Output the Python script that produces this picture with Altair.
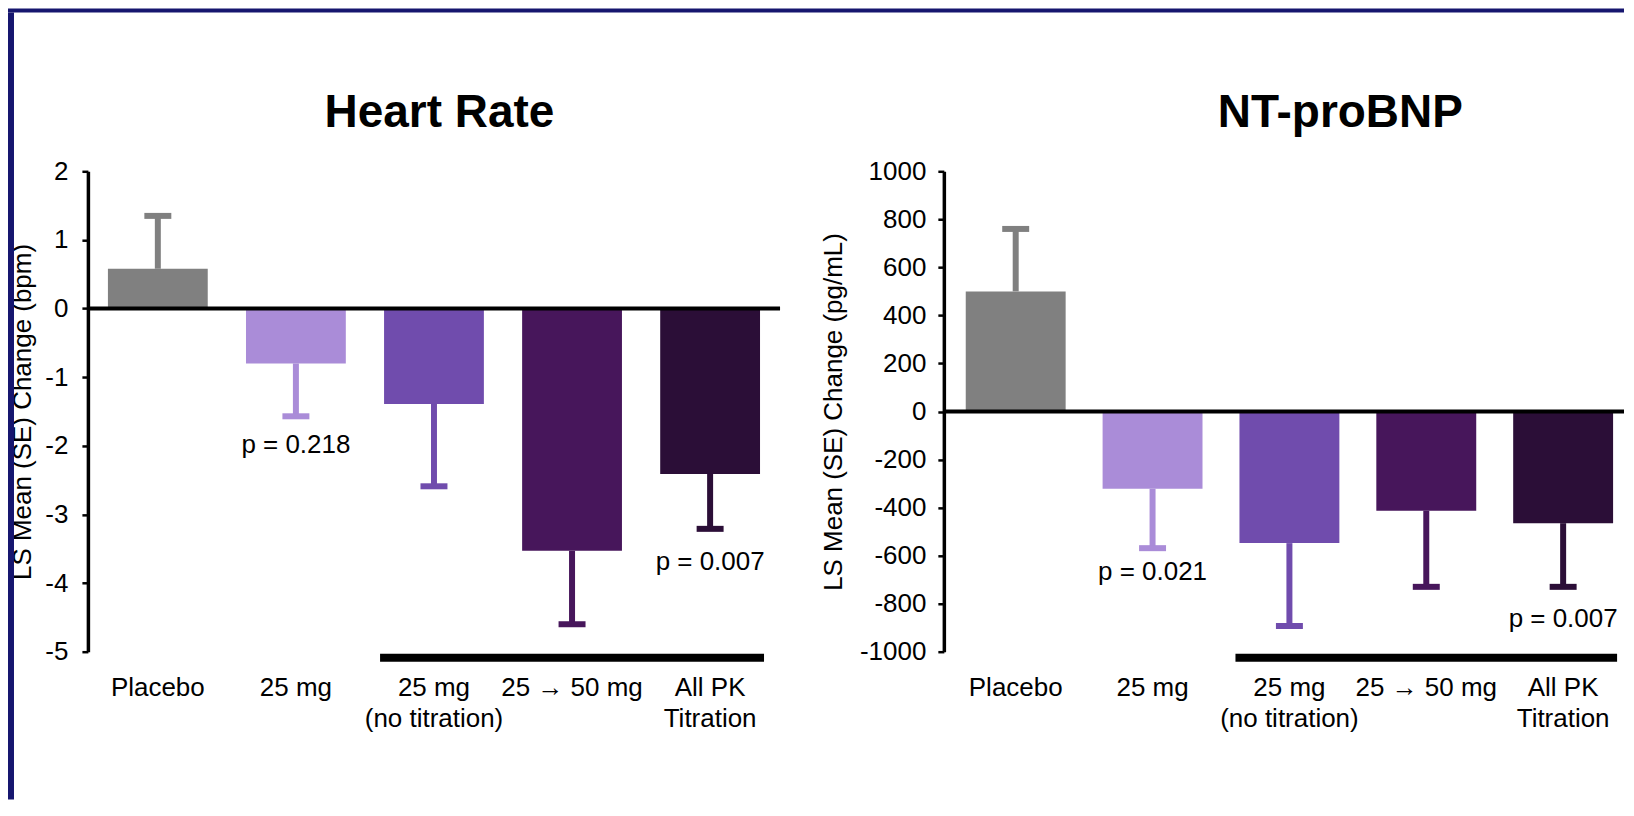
import altair as alt
import pandas as pd

# ---------------- data ----------------
categories = ["Placebo", "25 mg", "25 mg\n(no titration)", "25 → 50 mg", "All PK\nTitration"]
colors = ["#808080", "#aa8cd8", "#704cad", "#47165b", "#2b0e37"]

hr_mean = [0.58, -0.80, -1.39, -3.53, -2.41]
hr_se = [0.77, 0.77, 1.20, 1.07, 0.80]
hr_ticks = [2, 1, 0, -1, -2, -3, -4, -5]
hr_p_cats = ["25 mg", "All PK\nTitration"]
hr_p_text = ["p = 0.218", "p = 0.007"]

bnp_mean = [500, -322, -548, -413, -465]
bnp_se = [260, 247, 345, 317, 265]
bnp_ticks = [1000, 800, 600, 400, 200, 0, -200, -400, -600, -800, -1000]
bnp_p_cats = ["25 mg", "All PK\nTitration"]
bnp_p_text = ["p = 0.021", "p = 0.007"]

bracket_cats = ["25 mg\n(no titration)", "All PK\nTitration"]
titles = ["Heart Rate", "NT-proBNP"]
y_titles = ["LS Mean (SE) Change (bpm)", "LS Mean (SE) Change (pg/mL)"]

# ---------------- layout / style ----------------
FONT = "Liberation Sans"
NAVY = "#16166f"
H = 481            # plot height
W = 1538           # whole drawing width (both panels)
P1_X0, P1_W = 0, 693
P2_X0, P2_W = 857, 681


def rect(x1, x2, y1, y2, color):
    return alt.Chart(pd.DataFrame({"s": [0]})).mark_rect(color=color).encode(
        x=alt.value(x1), x2=alt.value(x2), y=alt.value(y1), y2=alt.value(y2))


def panel(mean, se, ticks, ytitle, title, p_cats, p_text, p_dy, x0, pw, xrange,
          pad_in, pad_out, title_x, ytitle_x, label_pad):
    ends = [m + (s if m >= 0 else -s) for m, s in zip(mean, se)]
    df = pd.DataFrame({"cat": categories, "mean": mean, "end": ends})

    xscale = alt.Scale(domain=categories, range=xrange, paddingInner=pad_in, paddingOuter=pad_out)
    xaxis = alt.Axis(title=None, orient="bottom", domain=False, ticks=False, tickSize=0,
                     labelAngle=0, labelFont=FONT, labelFontSize=26, labelColor="black",
                     labelPadding=23, labelLineHeight=31, labelOverlap=False, labelBound=False,
                     labelLimit=400, labelExpr="split(datum.label, '\\n')")
    yscale = alt.Scale(domain=[ticks[-1], ticks[0]], nice=False, zero=False)
    yaxis = alt.Axis(title=ytitle, orient="left", offset=-x0, values=ticks, grid=False,
                     labelExpr="datum.value + ''",
                     domainColor="black", domainWidth=3.5, tickColor="black", tickWidth=2.5,
                     tickSize=6, labelFont=FONT, labelFontSize=26, labelColor="black",
                     labelPadding=label_pad, titleFont=FONT, titleFontSize=26,
                     titleFontWeight="normal", titleColor="black", titleX=ytitle_x,
                     titleY=H / 2, titleAngle=270, titleBaseline="bottom", titleAlign="center")

    X = alt.X("cat:N", sort=categories, scale=xscale, axis=xaxis)
    Y = lambda f: alt.Y(f, scale=yscale, axis=yaxis)
    C = alt.Color("cat:N", scale=alt.Scale(domain=categories, range=colors), legend=None)

    base = alt.Chart(df)
    bars = base.mark_bar().encode(x=X, y=Y("mean:Q"), color=C)
    stems = base.mark_rule(strokeWidth=6).encode(x=X, y=Y("mean:Q"), y2="end:Q", color=C)
    caps = base.mark_tick(thickness=6, size=27, orient="horizontal", opacity=1).encode(
        x=X, y=Y("end:Q"), color=C)
    zero = alt.Chart(pd.DataFrame({"z": [0]})).mark_rule(color="black", strokeWidth=4).encode(
        y=Y("z:Q"), x=alt.value(x0), x2=alt.value(x0 + pw))

    bracket = alt.Chart(pd.DataFrame({"a": [bracket_cats[0]], "b": [bracket_cats[1]]})).mark_rule(
        color="black", strokeWidth=8, strokeCap="square").encode(
        x=alt.X("a:N", scale=xscale, axis=xaxis, bandPosition=0),
        x2=alt.X2("b:N", bandPosition=1),
        y=alt.value(H + 6))

    layers = [bars, stems, caps, zero, bracket]

    for cat, txt, dy in zip(p_cats, p_text, p_dy):
        pdf = pd.DataFrame({"cat": [cat], "end": [ends[categories.index(cat)]], "t": [txt]})
        layers.append(alt.Chart(pdf).mark_text(font=FONT, fontSize=26, color="black",
                                               baseline="alphabetic", align="center", dy=dy).encode(
            x=X, y=Y("end:Q"), text="t:N"))

    layers.append(alt.Chart(pd.DataFrame({"t": [title]})).mark_text(
        font=FONT, fontSize=46, fontWeight="bold", color="black",
        baseline="alphabetic", align="center").encode(
        x=alt.value(title_x), y=alt.value(-44), text="t:N"))

    return alt.layer(*layers)


p1 = panel(hr_mean, hr_se, hr_ticks, y_titles[0], titles[0], hr_p_cats, hr_p_text, [37, 41],
           P1_X0, P1_W, [P1_X0, P1_X0 + 693], 0.277, 0.145, 352, -52, 14)
p2 = panel(bnp_mean, bnp_se, bnp_ticks, y_titles[1], titles[1], bnp_p_cats, bnp_p_text, [32, 40],
           P2_X0, P2_W, [P2_X0, P2_X0 + 692], 0.27, 0.16, 1254, -97, 12)

frame = [rect(-80, W, -163, -159, NAVY), rect(-80, -74, -159, 629, NAVY)]

chart = alt.layer(p1, p2, *frame).resolve_scale(
    x="independent", y="independent").resolve_axis(
    x="independent", y="independent").properties(
    width=W, height=H, padding=0, background="white").configure(
    font=FONT).configure_view(strokeWidth=0, stroke="transparent")

chart.save("out.html", embed_options={"renderer": "svg", "actions": False})
